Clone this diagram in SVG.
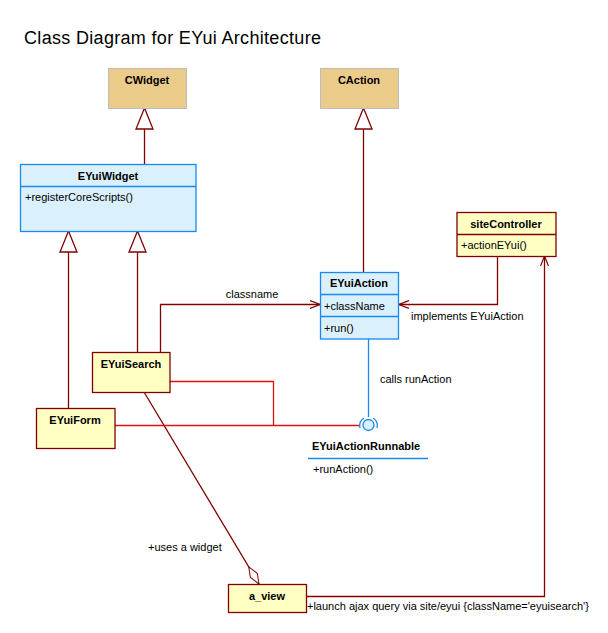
<svg xmlns="http://www.w3.org/2000/svg" width="608" height="633" viewBox="0 0 608 633">
<defs>
<style>
text{font-family:"Liberation Sans",Arial,sans-serif;font-size:11px;fill:#000}
.b{font-weight:bold;text-anchor:middle}
.lib{fill:#EBCB8A;stroke:#BDBDBD;stroke-width:1}
.blue{fill:#DAF0FD;stroke:#1A88F0;stroke-width:1.3}
.yel{fill:#FFFFC4;stroke:#800000;stroke-width:1.3}
.sepb{stroke:#1A88F0;stroke-width:1.3}
.sepy{stroke:#800000;stroke-width:1.3}
.dr{fill:none;stroke:#800000;stroke-width:1.3}
.rd{fill:none;stroke:#E01010;stroke-width:1.3}
.bl{fill:none;stroke:#1A88F0;stroke-width:1.3}
.tri{fill:#fff;stroke:#800000;stroke-width:1.3}
</style>
<marker id="open" viewBox="0 0 10 10" refX="10" refY="5" markerWidth="10" markerHeight="10" markerUnits="userSpaceOnUse" orient="auto">
<path d="M0,1 L10,5 L0,9" fill="none" stroke="#800000" stroke-width="1.2"/>
</marker>
<marker id="diam" viewBox="0 0 20 10" refX="20" refY="5" markerWidth="20" markerHeight="10" markerUnits="userSpaceOnUse" orient="auto">
<path d="M0,5 L10,1 L20,5 L10,9 Z" fill="#fff" stroke="#800000" stroke-width="1"/>
</marker>
</defs>
<rect width="608" height="633" fill="#fff"/>
<text x="24" y="44" style="font-size:18px" textLength="297">Class Diagram for EYui Architecture</text>

<g id="connectors">
<path class="dr" d="M144.5,129 V164"/>
<path class="tri" d="M144.5,108 L136,129 H153 Z"/>
<path class="dr" d="M363.5,129 V272"/>
<path class="tri" d="M363.5,108 L355,129 H372 Z"/>
<path class="dr" d="M68.5,252 V408"/>
<path class="tri" d="M68.5,231 L60,252 H77 Z"/>
<path class="dr" d="M137.5,252 V352"/>
<path class="tri" d="M137.5,231 L129,252 H146 Z"/>
<path class="dr" d="M160.5,352 V304.5 H320" marker-end="url(#open)"/>
<text x="252" y="298" text-anchor="middle">classname</text>
<path class="dr" d="M497.5,256 V304.5 H399" marker-end="url(#open)"/>
<text x="411" y="320">implements EYuiAction</text>
<path class="dr" d="M306,596.5 H544.5 V256" marker-end="url(#open)"/>
<text x="307" y="610">+launch ajax query via site/eyui {className='eyuisearch'}</text>
<path class="dr" d="M144,392 L259,584" stroke-width="1" marker-end="url(#diam)"/>
<text x="148" y="551">+uses a widget</text>
<path class="rd" d="M170,381.5 H273.5 V425.5"/>
<path class="rd" d="M115,425.5 H360"/>
<path class="bl" d="M368.5,339 V417"/>
<text x="380" y="383">calls runAction</text>
</g>

<g id="CWidget">
<rect class="lib" x="108.5" y="68.5" width="78" height="40"/>
<text class="b" x="147" y="84">CWidget</text>
</g>
<g id="CAction">
<rect class="lib" x="320.5" y="68.5" width="78" height="40"/>
<text class="b" x="359" y="84">CAction</text>
</g>
<g id="EYuiWidget">
<rect class="blue" x="20.5" y="164.5" width="175.5" height="67"/>
<line class="sepb" x1="20.5" y1="186.5" x2="196" y2="186.5"/>
<text class="b" x="108" y="180">EYuiWidget</text>
<text x="25" y="201">+registerCoreScripts()</text>
</g>
<g id="EYuiAction">
<rect class="blue" x="320.5" y="272.5" width="78" height="66.5"/>
<line class="sepb" x1="320.5" y1="294.5" x2="398.5" y2="294.5"/>
<line class="sepb" x1="320.5" y1="316.5" x2="398.5" y2="316.5"/>
<text class="b" x="359" y="287">EYuiAction</text>
<text x="324" y="310">+className</text>
<text x="324" y="332">+run()</text>
</g>
<g id="siteController">
<rect class="yel" x="457" y="212.5" width="99" height="44"/>
<line class="sepy" x1="457" y1="234.5" x2="556" y2="234.5"/>
<text class="b" x="506" y="228">siteController</text>
<text x="461" y="249">+actionEYui()</text>
</g>
<g id="EYuiSearch">
<rect class="yel" x="92.5" y="352.5" width="77.5" height="40"/>
<text class="b" x="131" y="368">EYuiSearch</text>
</g>
<g id="EYuiForm">
<rect class="yel" x="36.5" y="408.5" width="78.5" height="40"/>
<text class="b" x="75" y="424">EYuiForm</text>
</g>
<g id="EYuiActionRunnable">
<circle cx="368.5" cy="425" r="5.5" fill="#DAF0FD" stroke="#1A88F0" stroke-width="1.3"/>
<path class="bl" d="M360,428 A8.5,8.5 0 0 1 364,418 M373,418 A8.5,8.5 0 0 1 377,428"/>
<text x="312" y="450" style="font-weight:bold">EYuiActionRunnable</text>
<line class="sepb" x1="308" y1="458.5" x2="428" y2="458.5"/>
<text x="313" y="473">+runAction()</text>
</g>
<g id="a_view">
<rect class="yel" x="228.5" y="584.5" width="78" height="28"/>
<text class="b" x="267" y="600">a_view</text>
</g>
</svg>
